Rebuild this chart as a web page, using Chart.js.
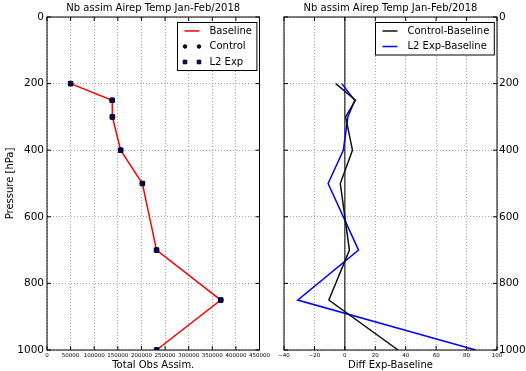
<!DOCTYPE html>
<html>
<head>
<meta charset="utf-8">
<script src="https://cdn.jsdelivr.net/npm/chart.js@4/dist/chart.umd.min.js"></script>
<style>
  body { margin: 0; background: #fff; }
  #left, #right { position: absolute; top: 0; }
  #left { left: 0; }
  #right { left: 272px; }
</style>
</head>
<body>
<canvas id="left" width="272" height="371"></canvas>
<canvas id="right" width="254" height="371"></canvas>
<script>
// DATA
const levels = [200, 250, 300, 400, 500, 700, 850, 1000];
const baseline = [50000, 138000, 138500, 156000, 202000, 232000, 368000, 232000];
const control = [49994, 138007, 138500, 156005, 201997, 232003, 367990, 232035];
const l2exp = [49998, 138006, 138502, 155999, 201989, 232009, 367969, 232086];
const controlDiff = [-6, 7, 0.5, 5, -3, 3, -10.5, 35];
const l2Diff = [-2, 6.5, 2, -1, -11, 9, -31, 86];

const chartTitle = 'Nb assim Airep Temp Jan-Feb/2018';
const FONT = '"DejaVu Sans", sans-serif';

const pts = (vals) => levels.map((p, i) => ({ x: vals[i], y: p }));

// frame, inward ticks, zero line, title and legend like matplotlib
const mplDecor = {
  id: 'mplDecor',
  beforeDatasetsDraw(chart, args, opts) {
    if (!opts.zeroLine) return;
    const ctx = chart.ctx, a = chart.chartArea;
    const x = chart.scales.x.getPixelForValue(0);
    ctx.save();
    ctx.strokeStyle = '#222';
    ctx.lineWidth = 1.2;
    ctx.beginPath();
    ctx.moveTo(x, a.top);
    ctx.lineTo(x, a.bottom);
    ctx.stroke();
    ctx.restore();
  },
  afterDraw(chart, args, opts) {
    const ctx = chart.ctx, a = chart.chartArea;
    ctx.save();
    // frame
    ctx.strokeStyle = '#000';
    ctx.lineWidth = 1;
    ctx.strokeRect(a.left, a.top, a.right - a.left, a.bottom - a.top);
    // ticks
    ctx.beginPath();
    chart.scales.x.ticks.forEach(t => {
      const x = chart.scales.x.getPixelForValue(t.value);
      ctx.moveTo(x, a.bottom); ctx.lineTo(x, a.bottom - 4);
      ctx.moveTo(x, a.top); ctx.lineTo(x, a.top + 4);
    });
    chart.scales.y.ticks.forEach(t => {
      const y = chart.scales.y.getPixelForValue(t.value);
      ctx.moveTo(a.left, y); ctx.lineTo(a.left + 4, y);
      ctx.moveTo(a.right, y); ctx.lineTo(a.right - 4, y);
    });
    ctx.stroke();

    // title
    ctx.font = '10px ' + FONT;
    ctx.fillStyle = '#000';
    ctx.textAlign = 'center';
    ctx.textBaseline = 'middle';
    ctx.fillText(opts.title, (a.left + a.right) / 2, 8);

    // legend
    const items = chart.data.datasets;
    ctx.textAlign = 'left';
    const tw = Math.max(...items.map(d => ctx.measureText(d.label).width));
    const w = 32 + tw + 5, h = 17 + 15.5 * (items.length - 1);
    const x0 = Math.round(a.right - 3 - w) + 0.5, y0 = Math.round(a.top + 5) + 0.5;
    ctx.fillStyle = '#fff';
    ctx.fillRect(x0, y0, w, h);
    ctx.strokeStyle = '#000';
    ctx.strokeRect(x0, y0, w, h);
    items.forEach((d, i) => {
      const y = y0 + 8.5 + i * 15.5;
      if (d.showLine) {
        ctx.strokeStyle = d.borderColor;
        ctx.lineWidth = d.borderWidth;
        ctx.beginPath();
        ctx.moveTo(x0 + 7, y);
        ctx.lineTo(x0 + 22, y);
        ctx.stroke();
      } else {
        ctx.fillStyle = d.pointBackgroundColor;
        ctx.strokeStyle = d.pointBorderColor;
        ctx.lineWidth = 1;
        const o = { pointStyle: d.pointStyle, radius: d.pointRadius * 0.8, borderWidth: 1, rotation: 0 };
        Chart.helpers.drawPoint(ctx, o, x0 + 7.5, y);
        Chart.helpers.drawPoint(ctx, o, x0 + 21.5, y);
      }
      ctx.fillStyle = '#000';
      ctx.textBaseline = 'middle';
      ctx.fillText(d.label, x0 + 32, y);
    });
    ctx.restore();
  }
};

const gridOpts = { color: '#aaa', lineWidth: 1, drawTicks: false };

// LEFT PANEL
new Chart(document.getElementById('left'), {
  type: 'scatter',
  data: {
    datasets: [{
      label: 'Baseline',
      data: pts(baseline),
      showLine: true,
      borderColor: '#ff0000',
      borderWidth: 1.5,
      pointRadius: 0,
      order: 3
    }, {
      label: 'Control',
      data: pts(control),
      showLine: false,
      pointStyle: 'circle',
      pointRadius: 2.2,
      pointBackgroundColor: '#000',
      pointBorderColor: '#000',
      order: 2
    }, {
      label: 'L2 Exp',
      data: pts(l2exp),
      showLine: false,
      pointStyle: 'rect',
      pointRadius: 3.2,
      pointBorderWidth: 1,
      pointBackgroundColor: '#000080',
      pointBorderColor: '#000',
      order: 1
    }]
  },
  options: {
    responsive: false,
    animation: false,
    layout: { padding: { left: 0, right: 12, top: 17, bottom: 0 } },
    plugins: {
      legend: { display: false },
      tooltip: { enabled: false },
      mplDecor: { title: chartTitle }
    },
    scales: {
      x: {
        type: 'linear',
        min: 0, max: 450000,
        afterFit: s => { s.height = 21; },
        ticks: {
          stepSize: 50000,
          maxRotation: 0,
          autoSkip: false,
          padding: 2,
          color: '#000',
          font: { family: FONT, size: 5.5 },
          callback: v => String(v)
        },
        grid: gridOpts,
        border: { display: false, dash: [1, 2] },
        title: { display: true, text: 'Total Obs Assim.', color: '#000', padding: 0, font: { family: FONT, size: 10 } }
      },
      y: {
        type: 'linear',
        reverse: true,
        min: 0, max: 1000,
        afterFit: s => { s.width = 47; },
        ticks: { stepSize: 200, padding: 3, color: '#000', font: { family: FONT, size: 10.5 }, callback: v => String(v) },
        grid: gridOpts,
        border: { display: false, dash: [1, 2] },
        title: { display: true, text: 'Pressure [hPa]', color: '#000', padding: { top: 4, bottom: 0 }, font: { family: FONT, size: 10 } }
      }
    }
  },
  plugins: [mplDecor]
});

// RIGHT PANEL
new Chart(document.getElementById('right'), {
  type: 'scatter',
  data: {
    datasets: [{
      label: 'Control-Baseline',
      data: pts(controlDiff),
      showLine: true,
      borderColor: '#111',
      borderWidth: 1.5,
      pointRadius: 0
    }, {
      label: 'L2 Exp-Baseline',
      data: pts(l2Diff),
      showLine: true,
      borderColor: '#0000ff',
      borderWidth: 1.5,
      pointRadius: 0
    }]
  },
  options: {
    responsive: false,
    animation: false,
    layout: { padding: { left: 12, right: 0, top: 17, bottom: 0 } },
    plugins: {
      legend: { display: false },
      tooltip: { enabled: false },
      mplDecor: { title: chartTitle, zeroLine: true }
    },
    scales: {
      x: {
        type: 'linear',
        min: -40, max: 100,
        afterFit: s => { s.height = 21; },
        ticks: {
          stepSize: 20,
          maxRotation: 0,
          autoSkip: false,
          padding: 2,
          color: '#000',
          font: { family: FONT, size: 5.5 },
          callback: v => v < 0 ? '\u2212' + (-v) : String(v)
        },
        grid: gridOpts,
        border: { display: false, dash: [1, 2] },
        title: { display: true, text: 'Diff Exp-Baseline', color: '#000', padding: 0, font: { family: FONT, size: 10 } }
      },
      y: {
        type: 'linear',
        position: 'right',
        reverse: true,
        min: 0, max: 1000,
        afterFit: s => { s.width = 29; },
        ticks: { stepSize: 200, padding: 2, color: '#000', font: { family: FONT, size: 10.5 }, callback: v => String(v) },
        grid: gridOpts,
        border: { display: false, dash: [1, 2] }
      }
    }
  },
  plugins: [mplDecor]
});
</script>
</body>
</html>
